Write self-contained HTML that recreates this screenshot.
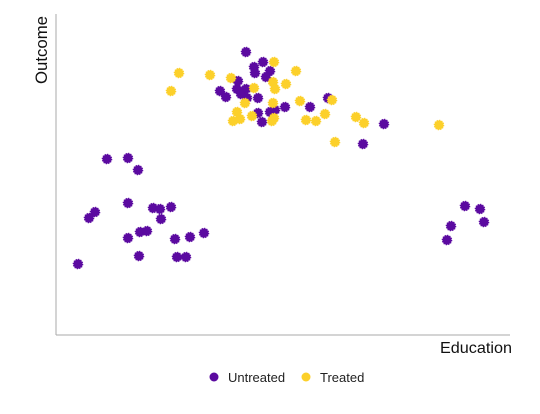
<!DOCTYPE html>
<html><head><meta charset="utf-8"><style>
html,body{margin:0;padding:0;background:#fff;}
svg{display:block;font-family:"Liberation Sans",sans-serif;}
</style></head><body>
<svg id="chart" width="540" height="414" viewBox="0 0 540 414">
<line x1="56" y1="14" x2="56" y2="335" stroke="#aaa" stroke-width="1"/>
<line x1="56" y1="335" x2="510" y2="335" stroke="#aaa" stroke-width="1"/>
<text transform="translate(47,84) rotate(-90)" font-size="17" fill="#111" textLength="68" lengthAdjust="spacingAndGlyphs">Outcome</text>
<text x="512" y="353" text-anchor="end" font-size="16" fill="#111" textLength="72" lengthAdjust="spacingAndGlyphs">Education</text>
<g id="points"></g>
<g>
<circle cx="214" cy="377" r="4.5" fill="#5b0aa0"/>
<text x="228" y="382" font-size="13" fill="#222">Untreated</text>
<circle cx="306" cy="377" r="4.5" fill="#fcd02a"/>
<text x="320" y="382" font-size="13" fill="#222">Treated</text>
</g>
</svg>
<script>
// education (x) and outcome (y) values in arbitrary units
const untreatedX=[51,72,82,72,39,33,97,104,115,105,84,91,72,119,134,148,83,121,130,22,190,207,198,199,214,210,164,170,181,190,185,191,202,182,202,214,229,206,219,254,272,307,328,409,424,428,395,391];
const untreatedY=[176,177,165,132,123,117,127,126,128,116,103,104,97,96,98,102,79,78,78,71,283,273,268,262,264,258,244,238,246,246,241,237,237,254,222,223,228,213,225,228,237,191,211,129,126,113,109,95];
const treatedX=[123,115,154,175,218,217,240,230,219,217,189,181,184,196,177,198,218,244,250,260,269,276,300,308,279,383,216];
const treatedY=[262,244,260,257,273,253,264,251,246,232,232,223,216,219,214,247,217,234,215,214,221,235,218,212,193,210,214];
const xS=v=>56+v;
const yS=v=>335-v;
const g=document.getElementById('points');
function star(cx,cy,color){
  const c=document.createElementNS('http://www.w3.org/2000/svg','circle');
  c.setAttribute('cx',cx);c.setAttribute('cy',cy);c.setAttribute('r',4.6);
  c.setAttribute('fill',color);c.setAttribute('stroke',color);c.setAttribute('stroke-width',1.4);c.setAttribute('stroke-dasharray','1.2 1.2');
  return c;
}
untreatedX.forEach((v,i)=>{
  const c=star(xS(v),yS(untreatedY[i]),'#5b0aa0');
  
  
  g.appendChild(c);
});
treatedX.forEach((v,i)=>{
  const c=star(xS(v),yS(treatedY[i]),'#fcd02a');
  
  
  g.appendChild(c);
});
</script>
</body></html>
